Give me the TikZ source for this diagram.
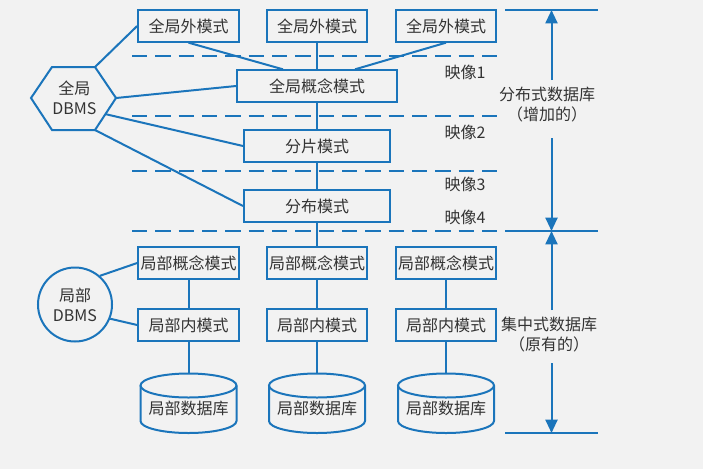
\documentclass[tikz,border=0pt]{standalone}
\usepackage{fontspec}
\setmainfont{Noto Sans CJK SC}
\usetikzlibrary{arrows.meta}
\definecolor{lineblue}{HTML}{1B75BB}
\definecolor{pagegray}{HTML}{F2F2F2}
\definecolor{textgray}{HTML}{333333}

\begin{document}
\begin{tikzpicture}[
  x=0.75pt, y=-0.75pt,
  every node/.style = {font=\fontsize{12pt}{15pt}\selectfont, text=textgray},
  box/.style = {draw=lineblue, line width=1.5pt, minimum width=75.5pt, minimum height=23.5pt, inner sep=0pt},
  widebox/.style = {box, minimum width=109.5pt},
  conceptbox/.style = {box, minimum width=120pt},
  dbms/.style = {align=center, inner sep=0pt},
  link/.style = {draw=lineblue, line width=1.5pt},
  mapline/.style = {draw=lineblue, line width=1.5pt, dash pattern=on 11.5pt off 6pt},
  rule/.style = {draw=lineblue, line width=1.5pt},
  dimarrow/.style = {draw=lineblue, line width=1.5pt, -{Triangle[length=10pt, width=9pt]}}
]

% Background
\fill[pagegray] (0,0) rectangle (703,469);

% Global external schemas
\node[box] (ext1) at (188.5,26) {全局外模式};
\node[box] (ext2) at (317,26) {全局外模式};
\node[box] (ext3) at (446,26) {全局外模式};

% Middle schemas
\node[conceptbox] (concept) at (317,86) {全局概念模式};
\node[widebox] (frag) at (317,146) {分片模式};
\node[widebox] (alloc) at (317,206) {分布模式};

% Local schemas
\foreach \col/\xpos in {1/188.5, 2/317, 3/446} {
  \node[box] (lc\col) at (\xpos,263) {局部概念模式};
  \node[box] (li\col) at (\xpos,325) {局部内模式};
  \coordinate (dbtop\col) at (\xpos,373.5);
  % Cylinder of the local database
  \draw[link] (\xpos,385.5) ellipse [x radius=48, y radius=12];
  \draw[link] (\xpos-48,385.5) -- (\xpos-48,421) arc[start angle=180, end angle=360, x radius=48, y radius=-12] -- (\xpos+48,385.5);
  \node (dbtext\col) at (\xpos,408) {局部数据库};
  \draw[link] (lc\col) -- (li\col);
  \draw[link] (li\col) -- (dbtop\col);
}

% Global DBMS hexagon
\coordinate (hexl) at (31,98);
\coordinate (hextl) at (52,67);
\coordinate (hextr) at (95,67);
\coordinate (hexr) at (116,98);
\coordinate (hexbr) at (95,130);
\coordinate (hexbl) at (52,130);
\coordinate (hexlow) at (105,114);
\draw[link] (hexl) -- (hextl) -- (hextr) -- (hexr) -- (hexbr) -- (hexbl) -- cycle;
\node[dbms] (gdbms) at (74.5,98) {全局\\DBMS};

% Local DBMS circle
\node[circle, draw=lineblue, line width=1.5pt, minimum size=55.5pt, inner sep=0pt, dbms] (ldbms) at (75,304.5) {局部\\DBMS};

% Links of the global part
\draw[link] (hextr) -- (ext1.west);
\draw[link] (hexr) -- (concept.west);
\draw[link] (hexlow) -- (frag.west);
\draw[link] (hexbr) -- (alloc.west);
\draw[link] (ext1.south) -- (concept.north -| 283,0);
\draw[link] (ext2) -- (concept);
\draw[link] (ext3.south) -- (concept.north -| 355,0);
\draw[link] (concept) -- (frag);
\draw[link] (frag) -- (alloc);
\draw[link] (alloc) -- (lc2);

% Links of the local part
\draw[link] (ldbms.49) -- (lc1.west);
\draw[link] (ldbms.-22) -- (li1.west);

% Dashed lines
\foreach \ypos in {56,116,171,231} {
  \draw[mapline] (132,\ypos) -- (498,\ypos);
}

% Mapping labels
\node (map1) at (465,72) {映像1};
\node (map2) at (465,132) {映像2};
\node (map3) at (465,184) {映像3};
\node (map4) at (465,217) {映像4};

% Right side rules
\coordinate (ruletop) at (551.5,10);
\coordinate (rulemid) at (551.5,231);
\coordinate (rulebot) at (551.5,433);
\draw[rule] (505,10) -- (598,10);
\draw[rule] (505,231) -- (598,231);
\draw[rule] (505,433) -- (598,433);

% Right side labels
\node[align=center, inner sep=0pt] (dist) at (547,105) {分布式数据库\\（增加的）};
\node[align=center, inner sep=0pt] (cent) at (549,335) {集中式数据库\\（原有的）};

% Extent arrows
\coordinate (distup) at (551.5,80);
\coordinate (distdown) at (551.5,138);
\coordinate (centup) at (551.5,310);
\coordinate (centdown) at (551.5,363);
\draw[dimarrow] (distup) -- (ruletop);
\draw[dimarrow] (distdown) -- (rulemid);
\draw[dimarrow] (centup) -- (rulemid);
\draw[dimarrow] (centdown) -- (rulebot);

\end{tikzpicture}
\end{document}
